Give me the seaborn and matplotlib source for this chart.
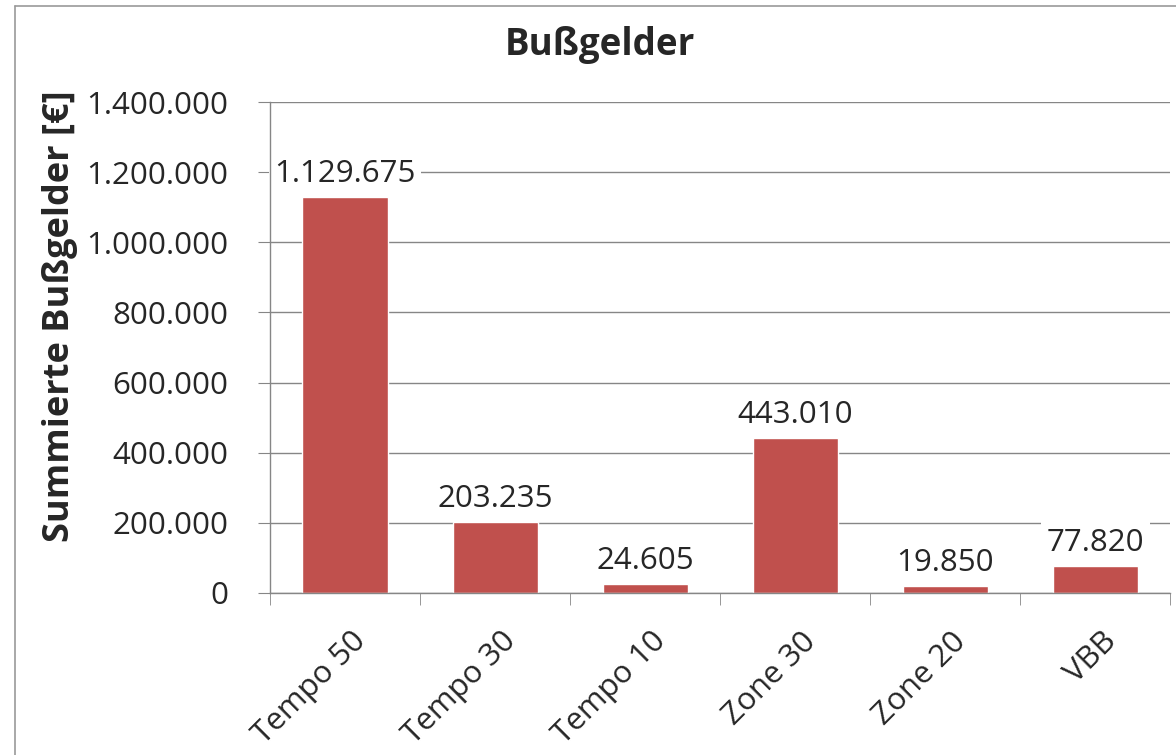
import numpy as np
import pandas as pd
import seaborn as sns
import matplotlib.pyplot as plt
from matplotlib.lines import Line2D
from matplotlib.ticker import FuncFormatter, FixedLocator
from matplotlib.transforms import ScaledTranslation

kategorien = ['Tempo 50', 'Tempo 30', 'Tempo 10', 'Zone 30', 'Zone 20', 'VBB']
bussgelder = [1129675, 203235, 24605, 443010, 19850, 77820]
y_ticks = [0, 200000, 400000, 600000, 800000, 1000000, 1200000, 1400000]

df = pd.DataFrame({'kategorie': kategorien, 'summe': bussgelder})

sns.set_style('white')
plt.rcParams['font.family'] = ['Open Sans', 'DejaVu Sans']

def de_format(v, pos=None):
    return f'{v:,.0f}'.replace(',', '.')

fig = plt.figure(figsize=(11.76, 7.55), dpi=100)
ax = fig.add_axes([0.2296, 0.2146, 0.7654, 0.6503])

sns.barplot(data=df, x='kategorie', y='summe', color='#C0504D',
            width=0.567, saturation=1, ax=ax)

grau = '#868686'
ax.set_ylim(0, 1400000)
ax.set_xlim(-0.5, 5.5)
ax.set_yticks(y_ticks)
ax.yaxis.set_major_formatter(FuncFormatter(de_format))
ax.yaxis.grid(True, color=grau, linewidth=1)
ax.set_axisbelow(True)

for s in ['top', 'right']:
    ax.spines[s].set_visible(False)
for s in ['left', 'bottom']:
    ax.spines[s].set_color(grau)
    ax.spines[s].set_linewidth(1)
    ax.spines[s].set_zorder(3)

ax.tick_params(axis='y', length=8.6, color=grau, labelsize=22.5, pad=21.5, direction='out', left=True)
ax.tick_params(axis='x', which='major', length=0, labelsize=22.5, pad=24)
ax.xaxis.set_minor_locator(FixedLocator(np.arange(-0.5, 6.0, 1.0)))
ax.tick_params(axis='x', which='minor', length=8.6, color=grau, direction='out', bottom=True)
verschiebung = ScaledTranslation(6 / 100, 0, fig.dpi_scale_trans)
for lbl in ax.get_xticklabels():
    lbl.set_rotation(45)
    lbl.set_ha('right')
    lbl.set_rotation_mode('anchor')
    lbl.set_transform(lbl.get_transform() + verschiebung)

for i, v in enumerate(bussgelder):
    ax.annotate(de_format(v), (i, v), xytext=(0, 10.8), textcoords='offset points',
                ha='center', va='baseline', fontsize=22.5, zorder=2,
                bbox=dict(facecolor='white', edgecolor='none', pad=4))

ax.set_xlabel('')
ax.set_ylabel('Summierte Bußgelder [€]', fontsize=26, fontweight='bold', va='center')
ax.yaxis.set_label_coords(-0.233, 0.564)
fig.text(0.510, 0.927, 'Bußgelder', ha='center', va='baseline', fontsize=26.5, fontweight='bold')

# Rahmen des Diagramms (links und oben sichtbar)
fig.add_artist(Line2D([0.0125, 0.0125], [0, 0.992], color='#9a9a9a', linewidth=1.2, transform=fig.transFigure))
fig.add_artist(Line2D([0.0125, 1.0], [0.992, 0.992], color='#9a9a9a', linewidth=1.2, transform=fig.transFigure))

fig.savefig('out.png', dpi=100)
